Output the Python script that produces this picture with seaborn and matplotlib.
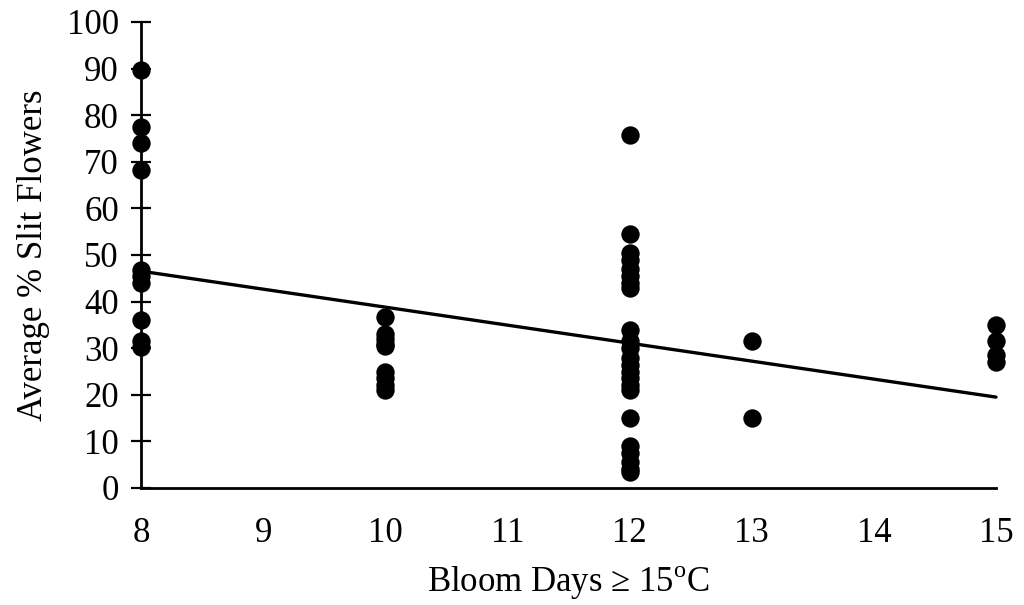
import matplotlib
matplotlib.use("Agg")
import matplotlib.pyplot as plt
import seaborn as sns
import pandas as pd

# Average % slit flowers for each count of bloom days at or above 15 °C
days_8 = [89.7, 77.5, 74.0, 68.3, 46.8, 45.5, 44.0, 36.0, 31.5, 30.3]
days_10 = [36.7, 33.0, 32.0, 31.0, 30.5, 25.0, 23.5, 22.0, 21.0]
days_12 = [75.8, 54.5, 50.5, 49.0, 47.0, 45.5, 44.0, 43.0, 34.0, 31.5, 30.0,
           28.0, 26.5, 25.0, 23.5, 22.0, 21.0, 15.0, 9.0, 7.5, 5.5, 4.0, 3.5]
days_13 = [31.5, 15.0]
days_15 = [35.0, 31.5, 28.5, 27.0]

groups = {8: days_8, 10: days_10, 12: days_12, 13: days_13, 15: days_15}
x_ticks = [8, 9, 10, 11, 12, 13, 14, 15]
y_ticks = [0, 10, 20, 30, 40, 50, 60, 70, 80, 90, 100]

df = pd.DataFrame(
    [(d, v) for d, vals in groups.items() for v in vals],
    columns=["days", "slit"],
)

sns.set_theme(style="white")
plt.rcParams["font.family"] = ["Liberation Serif", "DejaVu Serif"]
plt.rcParams["mathtext.fontset"] = "custom"
plt.rcParams["mathtext.rm"] = "Liberation Serif"
plt.rcParams["text.color"] = "black"
plt.rcParams["axes.labelcolor"] = "black"
plt.rcParams["xtick.color"] = "black"
plt.rcParams["ytick.color"] = "black"

fig = plt.figure(figsize=(10.24, 6.05), dpi=100)
ax = fig.add_axes([141 / 1024, 1 - 488 / 605, (996 - 141) / 1024, (488 - 22) / 605])

sns.regplot(
    data=df, x="days", y="slit", ax=ax, ci=None, color="black",
    scatter_kws=dict(s=175, linewidths=0, alpha=1, zorder=3),
    line_kws=dict(linewidth=2.4, zorder=2),
)

ax.set_xlim(8, 15)
ax.set_ylim(0, 100)
ax.set_xticks(x_ticks)
ax.set_yticks(y_ticks)
ax.set_xticklabels([str(t) for t in x_ticks])
ax.set_yticklabels([str(t) for t in y_ticks])

for side in ("top", "right"):
    ax.spines[side].set_visible(False)
for side in ("left", "bottom"):
    ax.spines[side].set_linewidth(2.0)
    ax.spines[side].set_color("black")
    ax.spines[side].set_clip_on(False)

ax.tick_params(axis="y", direction="inout", length=14, width=1.6,
               color="black", labelcolor="black", labelsize=25, pad=9, left=True)
ax.tick_params(axis="x", length=0, labelcolor="black", labelsize=25, pad=21)

ax.set_xlabel("Bloom Days \u2265 15$^{\\rm o}$C", fontsize=25, labelpad=10, color="black")
ax.set_ylabel("Average % Slit Flowers", fontsize=25, labelpad=12, color="black")

for coll in ax.collections:
    coll.set_clip_on(False)
for ln in ax.lines:
    ln.set_clip_on(False)

fig.savefig("out.png", dpi=100, facecolor="white")
